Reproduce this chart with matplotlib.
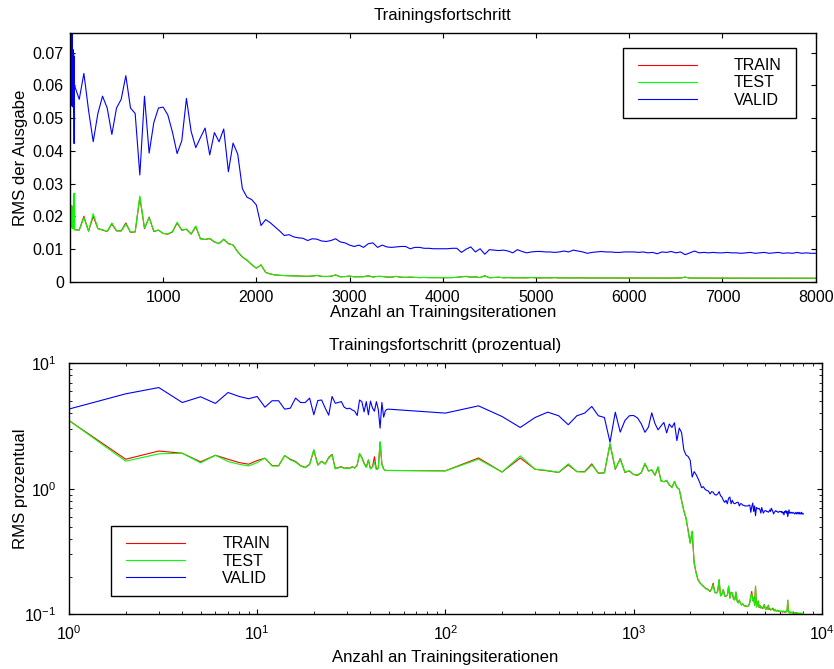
import matplotlib
matplotlib.use("Agg")
import matplotlib.pyplot as plt
from matplotlib.ticker import MultipleLocator, FuncFormatter, LogLocator, NullFormatter
from matplotlib.legend_handler import HandlerLine2D

plt.rcParams["font.family"] = ["Liberation Sans", "DejaVu Sans"]
plt.rcParams["font.size"] = 11.5
plt.rcParams["mathtext.fontset"] = "custom"
plt.rcParams["mathtext.rm"] = "Liberation Sans"
plt.rcParams["mathtext.it"] = "Liberation Sans:italic"
plt.rcParams["mathtext.bf"] = "Liberation Sans:bold"

# Iterationen: jede Iteration bis 50, danach alle 50 Iterationen
iterations = list(range(1, 51)) + list(range(100, 8001, 50))

# RMS in Prozent des Wertebereichs
rms_pct_train = [
    # 1 .. 50
    3.50, 1.72, 2.00, 1.92, 1.64, 1.85, 1.72, 1.62, 1.57, 1.68,
    1.75, 1.53, 1.53, 1.84, 1.72, 1.65, 1.53, 1.48, 1.57, 2.03,
    1.55, 1.66, 1.58, 1.78, 1.88, 1.45, 1.48, 1.50, 1.46, 1.47,
    1.46, 1.50, 1.47, 1.55, 1.90, 1.78, 1.60, 1.49, 1.70, 1.45,
    1.50, 1.80, 1.43, 1.46, 2.35, 1.58, 1.44, 1.40, 1.40, 1.40,
    # 100 .. 2000
    1.39, 1.76, 1.36, 1.76, 1.43, 1.39, 1.35, 1.55, 1.37, 1.37,
    1.58, 1.33, 1.34, 2.27, 1.43, 1.74, 1.35, 1.39, 1.30,
    1.28, 1.34, 1.58, 1.39, 1.41, 1.28, 1.48, 1.16, 1.14, 1.16,
    1.07, 1.03, 1.14, 1.03, 0.99, 0.81, 0.67, 0.58, 0.47, 0.37,
    # 2050 .. 8000
    0.457, 0.256, 0.215, 0.188, 0.180, 0.172, 0.168, 0.162, 0.160, 0.157,
    0.152, 0.160, 0.177, 0.150, 0.148, 0.152, 0.188, 0.140, 0.145, 0.157,
    0.140, 0.139, 0.142, 0.167, 0.135, 0.150, 0.148, 0.132, 0.130, 0.150,
    0.128, 0.123, 0.130, 0.122, 0.119, 0.121, 0.118, 0.116, 0.117, 0.115,
    0.116, 0.118, 0.125, 0.140, 0.152, 0.128, 0.136, 0.118, 0.167, 0.115,
    0.120, 0.128, 0.113, 0.118, 0.112, 0.115, 0.111, 0.113, 0.120, 0.112,
    0.110, 0.114, 0.110, 0.118, 0.109, 0.111, 0.108, 0.110, 0.109, 0.112,
    0.108, 0.107, 0.109, 0.107, 0.106, 0.108, 0.106, 0.107, 0.105, 0.106,
    0.105, 0.106, 0.105, 0.104, 0.106, 0.105, 0.104, 0.105, 0.104, 0.106,
    0.108, 0.129, 0.105, 0.104, 0.103, 0.104, 0.103, 0.103, 0.104, 0.103,
    0.102, 0.103, 0.102, 0.103, 0.102, 0.102, 0.103, 0.102, 0.101, 0.102,
    0.101, 0.102, 0.101, 0.102, 0.101, 0.101, 0.102, 0.101, 0.101, 0.102,
]

rms_pct_test = [
    # 1 .. 50
    3.50, 1.66, 1.90, 1.92, 1.61, 1.85, 1.65, 1.57, 1.52, 1.62,
    1.76, 1.52, 1.52, 1.84, 1.70, 1.63, 1.52, 1.47, 1.56, 2.05,
    1.54, 1.65, 1.57, 1.76, 1.86, 1.44, 1.47, 1.49, 1.45, 1.46,
    1.45, 1.49, 1.46, 1.54, 1.92, 1.76, 1.58, 1.48, 1.68, 1.44,
    1.49, 1.62, 1.42, 1.45, 2.38, 1.56, 1.43, 1.40, 1.40, 1.40,
    # 100 .. 2000
    1.39, 1.72, 1.36, 1.83, 1.43, 1.40, 1.35, 1.58, 1.37, 1.36,
    1.55, 1.34, 1.34, 2.30, 1.45, 1.72, 1.36, 1.39, 1.30,
    1.29, 1.35, 1.60, 1.38, 1.42, 1.29, 1.50, 1.15, 1.14, 1.17,
    1.08, 1.02, 1.15, 1.02, 1.00, 0.80, 0.67, 0.59, 0.46, 0.37,
    # 2050 .. 8000
    0.460, 0.258, 0.213, 0.190, 0.178, 0.173, 0.166, 0.163, 0.158, 0.156,
    0.153, 0.158, 0.172, 0.151, 0.147, 0.153, 0.190, 0.141, 0.144, 0.158,
    0.139, 0.140, 0.141, 0.168, 0.134, 0.149, 0.149, 0.131, 0.131, 0.151,
    0.127, 0.124, 0.129, 0.123, 0.118, 0.122, 0.117, 0.117, 0.116, 0.116,
    0.115, 0.119, 0.124, 0.141, 0.145, 0.129, 0.135, 0.119, 0.168, 0.114,
    0.121, 0.127, 0.114, 0.117, 0.113, 0.114, 0.112, 0.112, 0.119, 0.113,
    0.109, 0.113, 0.111, 0.116, 0.110, 0.110, 0.109, 0.109, 0.110, 0.110,
    0.109, 0.106, 0.110, 0.106, 0.107, 0.107, 0.107, 0.106, 0.106, 0.105,
    0.106, 0.105, 0.106, 0.105, 0.105, 0.106, 0.105, 0.104, 0.105, 0.105,
    0.107, 0.130, 0.104, 0.105, 0.102, 0.105, 0.102, 0.104, 0.103, 0.104,
    0.103, 0.102, 0.103, 0.102, 0.103, 0.101, 0.102, 0.103, 0.102, 0.101,
    0.102, 0.101, 0.102, 0.101, 0.102, 0.100, 0.101, 0.102, 0.100, 0.101,
]

rms_pct_valid = [
    # 1 .. 50
    4.32, 5.71, 6.41, 4.87, 5.41, 4.79, 5.85, 5.45, 5.22, 5.44,
    4.47, 5.03, 5.03, 4.31, 4.39, 5.28, 4.87, 4.87, 5.28, 3.89,
    5.05, 5.10, 4.39, 3.86, 5.44, 4.80, 4.88, 4.95, 4.47, 4.34,
    4.39, 4.25, 4.15, 3.84, 5.10, 4.95, 4.10, 4.95, 3.89, 5.00,
    4.40, 4.15, 4.95, 4.30, 3.04, 4.88, 3.72, 4.20, 4.30, 4.31,
    # 100 .. 2000
    4.01, 4.58, 3.77, 3.08, 3.70, 4.08, 3.82, 3.24, 3.82, 4.01,
    4.53, 3.82, 3.70, 2.35, 4.08, 2.83, 3.50, 3.82, 3.84,
    3.67, 3.29, 2.82, 3.10, 4.03, 3.31, 2.95, 3.17, 3.38, 2.79,
    3.28, 3.08, 3.36, 2.42, 3.05, 2.81, 2.05, 1.86, 1.81, 1.69,
    # 2050 .. 8000
    1.24, 1.37, 1.30, 1.21, 1.12, 1.02, 1.04, 0.99, 0.97, 0.96,
    0.91, 0.95, 0.94, 0.90, 0.89, 0.91, 0.95, 0.88, 0.86, 0.81,
    0.78, 0.81, 0.76, 0.84, 0.86, 0.76, 0.81, 0.77, 0.76, 0.77,
    0.78, 0.78, 0.73, 0.76, 0.76, 0.74, 0.74, 0.73, 0.73, 0.73,
    0.73, 0.74, 0.74, 0.65, 0.72, 0.77, 0.66, 0.73, 0.61, 0.71,
    0.70, 0.69, 0.70, 0.68, 0.64, 0.71, 0.67, 0.64, 0.66, 0.67,
    0.67, 0.66, 0.66, 0.65, 0.66, 0.68, 0.66, 0.70, 0.68, 0.66,
    0.63, 0.65, 0.66, 0.67, 0.66, 0.66, 0.65, 0.65, 0.66, 0.66,
    0.66, 0.65, 0.66, 0.64, 0.65, 0.62, 0.66, 0.65, 0.67, 0.64,
    0.66, 0.60, 0.64, 0.68, 0.64, 0.65, 0.64, 0.65, 0.64, 0.64,
    0.65, 0.64, 0.64, 0.63, 0.64, 0.65, 0.63, 0.64, 0.65, 0.63,
    0.64, 0.65, 0.63, 0.64, 0.63, 0.65, 0.63, 0.64, 0.63, 0.63,
]

# Wertebereich der Ausgabe je Datensatz (RMS prozentual = RMS / Bereich * 100)
output_range = {"TRAIN": 1.14, "TEST": 1.14, "VALID": 1.39}

series_names = ["TRAIN", "TEST", "VALID"]
series_colors = ["#ff0000", "#00ff00", "#0000ff"]
series_pct = [rms_pct_train, rms_pct_test, rms_pct_valid]

LABEL_SIZE = 12.1

W, H = 834, 669
fig = plt.figure(figsize=(W / 100, H / 100), dpi=100)


def px_axes(left, top, right, bottom):
    return fig.add_axes([left / W, 1 - bottom / H, (right - left) / W, (bottom - top) / H])


class InsetLineHandler(HandlerLine2D):
    """Legend line that starts a little way into the handle box."""

    def __init__(self, inset, **kw):
        super().__init__(**kw)
        self.inset = inset

    def create_artists(self, legend, orig_handle, xdescent, ydescent,
                       width, height, fontsize, trans):
        return super().create_artists(legend, orig_handle, xdescent - self.inset,
                                      ydescent, width - self.inset, height,
                                      fontsize, trans)


ax1 = px_axes(70, 33.3, 815.7, 282)
ax2 = px_axes(69, 363.3, 821.7, 614.3)

for name, color, pct in zip(series_names, series_colors, series_pct):
    rms = [p * output_range[name] / 100 for p in pct]
    ax1.plot(iterations, rms, color=color, lw=0.8, label=name)
    ax2.plot(iterations, pct, color=color, lw=0.8, label=name)

# oberes Diagramm: absoluter RMS
ax1.set_xlim(1, 8000)
ax1.set_ylim(0, 0.0759)
ax1.xaxis.set_major_locator(MultipleLocator(1000))
ax1.yaxis.set_major_locator(MultipleLocator(0.01))
ax1.yaxis.set_major_formatter(FuncFormatter(lambda v, p: "0" if abs(v) < 1e-12 else f"{v:.2f}"))
ax1.set_title("Trainingsfortschritt", pad=9.7, fontsize=LABEL_SIZE)
ax1.set_xlabel("Anzahl an Trainingsiterationen", labelpad=0.5, fontsize=LABEL_SIZE)
ax1.set_ylabel("RMS der Ausgabe", fontsize=LABEL_SIZE)
ax1.yaxis.set_label_coords(-0.056, 0.5)

# unteres Diagramm: prozentualer RMS, doppelt logarithmisch
ax2.set_xscale("log")
ax2.set_yscale("log")
ax2.set_xlim(1, 1e4)
ax2.set_ylim(0.1, 10)
for axis in (ax2.xaxis, ax2.yaxis):
    axis.set_major_locator(LogLocator(base=10))
    axis.set_minor_locator(LogLocator(base=10, subs=range(2, 10)))
    axis.set_minor_formatter(NullFormatter())
ax2.set_title("Trainingsfortschritt (prozentual)", pad=9.7, fontsize=LABEL_SIZE)
ax2.set_xlabel("Anzahl an Trainingsiterationen", labelpad=4.5, fontsize=LABEL_SIZE)
ax2.set_ylabel("RMS prozentual", fontsize=LABEL_SIZE)
ax2.yaxis.set_label_coords(-0.054, 0.5)

for ax in (ax1, ax2):
    for sp in ax.spines.values():
        sp.set_linewidth(1.0)
    ax.tick_params(which="major", direction="in", top=True, right=True,
                   length=3.8, width=0.8, labelsize=11.5)
    ax.tick_params(which="minor", direction="in", top=True, right=True,
                   length=2.2, width=0.6)
ax1.tick_params(axis="x", pad=5.5)
ax1.tick_params(axis="y", pad=4.5)
ax2.tick_params(axis="x", which="major", pad=7.5)
ax2.tick_params(axis="y", which="major", pad=9)

legend_style = dict(frameon=True, fancybox=False, edgecolor="black", framealpha=1,
                    borderpad=0.62, labelspacing=0.14, handlelength=4.02,
                    handletextpad=2.32, borderaxespad=0, fontsize=11.5,
                    mode="expand",
                    handler_map={plt.Line2D: InsetLineHandler(inset=3.7)})
leg1 = ax1.legend(loc="upper left", bbox_to_anchor=(0.7412, 0.6622, 0.2328, 0.2775),
                  **legend_style)
leg2 = ax2.legend(loc="lower left", bbox_to_anchor=(0.0558, 0.0741, 0.2334, 0.279),
                  **legend_style)
for leg in (leg1, leg2):
    leg.get_frame().set_linewidth(1.0)

fig.savefig("out.png", dpi=100)
